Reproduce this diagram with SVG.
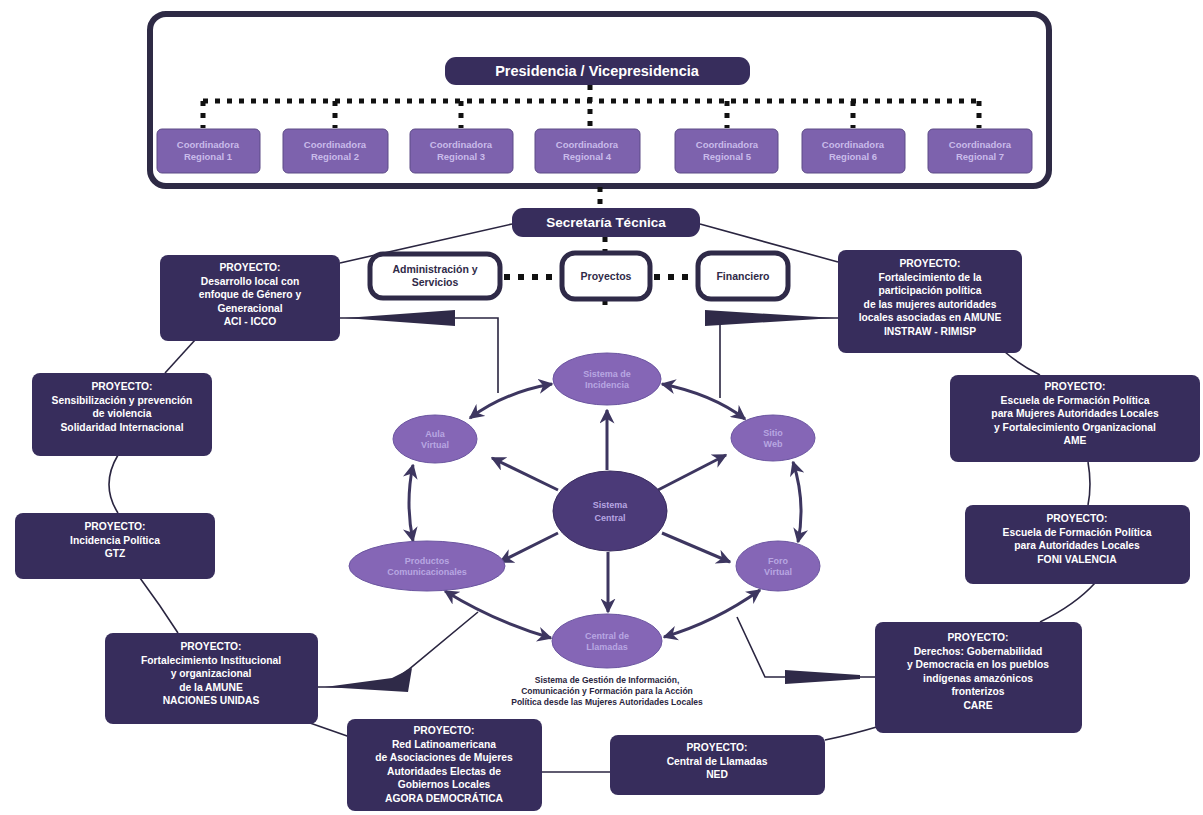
<svg xmlns="http://www.w3.org/2000/svg" width="1203" height="815" viewBox="0 0 1203 815">
<defs>
<style>
.dk{fill:#372d5c;}
.pt{font-family:"Liberation Sans",Arial,sans-serif;font-weight:bold;font-size:10.3px;fill:#ffffff;text-anchor:middle;}
.coord{fill:#7d62ad;stroke:#5c4a86;stroke-width:1;}
.ct{font-family:"Liberation Sans",Arial,sans-serif;font-weight:bold;font-size:9.5px;fill:#c9bbea;text-anchor:middle;}
.wb{fill:#ffffff;stroke:#2f2a48;stroke-width:5;}
.wt{font-family:"Liberation Sans",Arial,sans-serif;font-weight:bold;font-size:10.5px;fill:#2f2a48;text-anchor:middle;}
.pill{font-family:"Liberation Sans",Arial,sans-serif;font-weight:bold;fill:#ffffff;text-anchor:middle;}
.dot{stroke:#111;stroke-width:5;stroke-dasharray:5 7;fill:none;}
.dot2{stroke:#111;stroke-width:6;stroke-dasharray:6 8;fill:none;}
.ln{stroke:#2a2540;stroke-width:1.6;fill:none;}
.ell{fill:#8566b6;stroke:#6b55a0;stroke-width:1;}
.et{font-family:"Liberation Sans",Arial,sans-serif;font-weight:bold;font-size:9px;fill:#b8a6e2;text-anchor:middle;}
.ar{stroke:#3d3660;stroke-width:3;fill:none;}
.cap{font-family:"Liberation Sans",Arial,sans-serif;font-weight:bold;font-size:8.5px;fill:#2a2540;text-anchor:middle;}
</style>
<marker id="ah" viewBox="0 0 10 10" refX="9" refY="5" markerWidth="5" markerHeight="5" orient="auto-start-reverse">
<path d="M0,0 L10,5 L0,10 L3,5z" fill="#3d3660"/>
</marker>
</defs>
<rect width="1203" height="815" fill="#ffffff"/>

<g id="top-frame">
<rect x="150" y="14" width="899" height="172" rx="16" fill="#ffffff" stroke="#2e2a45" stroke-width="6"/>
</g>

<g id="connectors">
<path class="dot" d="M203,101 H978"/>
<path class="dot" d="M203,101 V128 M335,101 V128 M461,101 V128 M590,85 V128 M727,101 V128 M853,101 V128 M979,101 V128"/>
<path class="dot" d="M600,187 V208"/>
<path class="dot" d="M605,237 V252 M605,300 V312"/>
<path class="dot2" d="M504,277 H560 M654,277 H696"/>
<path class="ln" d="M512,224 L340,263"/>
<path class="ln" d="M700,224 L838,262"/>
<path class="ln" d="M195,340 L165,373"/>
<path class="ln" d="M118,455 Q100,485 118,513"/>
<path class="ln" d="M140,578 Q160,605 178,633"/>
<path class="ln" d="M310,723 L350,737"/>
<path class="ln" d="M542,772 H610"/>
<path class="ln" d="M825,740 Q850,735 880,726"/>
<path class="ln" d="M1040,622 Q1075,605 1095,583"/>
<path class="ln" d="M1088,505 Q1092,485 1088,462"/>
<path class="ln" d="M1040,375 Q1020,365 1005,352"/>
<path class="ln" d="M340,318 H498 V393"/>
<polygon points="345,318 455,310 455,326" fill="#2f2a48"/>
<path class="ln" d="M838,318 H720 V398"/>
<polygon points="835,318 705,310 705,326" fill="#2f2a48"/>
<path class="ln" d="M318,687 H385 L408,670 L478,612"/>
<polygon points="325,687 392,678 412,668 408,692" fill="#2f2a48"/>
<path class="ln" d="M737,617 L765,677 H875"/>
<polygon points="785,670 785,684 860,679 860,675" fill="#2f2a48"/>
<path class="ar" d="M607,470 V410" marker-end="url(#ah)"/>
<path class="ar" d="M558,490 L492,458" marker-end="url(#ah)"/>
<path class="ar" d="M658,490 L726,455" marker-end="url(#ah)"/>
<path class="ar" d="M558,533 L500,562" marker-end="url(#ah)"/>
<path class="ar" d="M662,533 L730,562" marker-end="url(#ah)"/>
<path class="ar" d="M608,552 V612" marker-end="url(#ah)"/>
<path class="ar" d="M552,384 Q505,392 470,418" marker-start="url(#ah)" marker-end="url(#ah)"/>
<path class="ar" d="M662,384 Q712,394 745,419" marker-start="url(#ah)" marker-end="url(#ah)"/>
<path class="ar" d="M413,465 Q405,503 413,541" marker-start="url(#ah)" marker-end="url(#ah)"/>
<path class="ar" d="M793,462 Q806,502 798,542" marker-start="url(#ah)" marker-end="url(#ah)"/>
<path class="ar" d="M445,591 Q495,622 551,638" marker-start="url(#ah)" marker-end="url(#ah)"/>
<path class="ar" d="M760,590 Q715,622 664,637" marker-start="url(#ah)" marker-end="url(#ah)"/>
</g>

<g id="presidencia">
<rect x="445" y="57" width="305" height="28" rx="11" class="dk"/>
<text x="597" y="76" class="pill" font-size="14.5">Presidencia / Vicepresidencia</text>
</g>

<g id="coord1"><rect x="157" y="129" width="103" height="44" rx="5" class="coord"/><text class="ct" x="208" y="148">Coordinadora<tspan x="208" dy="12">Regional 1</tspan></text></g>
<g id="coord2"><rect x="283" y="129" width="105" height="44" rx="5" class="coord"/><text class="ct" x="335" y="148">Coordinadora<tspan x="335" dy="12">Regional 2</tspan></text></g>
<g id="coord3"><rect x="410" y="129" width="103" height="44" rx="5" class="coord"/><text class="ct" x="461" y="148">Coordinadora<tspan x="461" dy="12">Regional 3</tspan></text></g>
<g id="coord4"><rect x="535" y="129" width="105" height="44" rx="5" class="coord"/><text class="ct" x="587" y="148">Coordinadora<tspan x="587" dy="12">Regional 4</tspan></text></g>
<g id="coord5"><rect x="675" y="129" width="103" height="44" rx="5" class="coord"/><text class="ct" x="727" y="148">Coordinadora<tspan x="727" dy="12">Regional 5</tspan></text></g>
<g id="coord6"><rect x="802" y="129" width="103" height="44" rx="5" class="coord"/><text class="ct" x="853" y="148">Coordinadora<tspan x="853" dy="12">Regional 6</tspan></text></g>
<g id="coord7"><rect x="928" y="129" width="104" height="44" rx="5" class="coord"/><text class="ct" x="980" y="148">Coordinadora<tspan x="980" dy="12">Regional 7</tspan></text></g>

<g id="secretaria">
<rect x="512" y="208" width="188" height="29" rx="11" class="dk"/>
<text x="606" y="227" class="pill" font-size="13.5">Secretaría Técnica</text>
</g>

<g id="admin"><rect x="370" y="254" width="130" height="44" rx="13" class="wb"/><text class="wt" x="435" y="273">Administración y<tspan x="435" dy="13">Servicios</tspan></text></g>
<g id="proyectos"><rect x="562" y="253" width="88" height="46" rx="13" class="wb"/><text class="wt" x="606" y="280">Proyectos</text></g>
<g id="financiero"><rect x="698" y="253" width="90" height="46" rx="13" class="wb"/><text class="wt" x="743" y="280">Financiero</text></g>

<g id="p-aci"><rect x="160" y="255" width="180" height="86" rx="8" class="dk"/>
<text class="pt" x="250" y="271">PROYECTO:<tspan x="250" dy="13.5">Desarrollo local con</tspan><tspan x="250" dy="13.5">enfoque de Género y</tspan><tspan x="250" dy="13.5">Generacional</tspan><tspan x="250" dy="13.5">ACI - ICCO</tspan></text></g>

<g id="p-instraw"><rect x="838" y="250" width="184" height="103" rx="8" class="dk"/>
<text class="pt" x="930" y="267">PROYECTO:<tspan x="930" dy="13.5">Fortalecimiento de la</tspan><tspan x="930" dy="13.5">participación política</tspan><tspan x="930" dy="13.5">de las mujeres autoridades</tspan><tspan x="930" dy="13.5">locales asociadas en AMUNE</tspan><tspan x="930" dy="13.5">INSTRAW - RIMISP</tspan></text></g>

<g id="p-solidaridad"><rect x="32" y="373" width="180" height="83" rx="8" class="dk"/>
<text class="pt" x="122" y="390">PROYECTO:<tspan x="122" dy="13.5">Sensibilización y prevención</tspan><tspan x="122" dy="13.5">de violencia</tspan><tspan x="122" dy="13.5">Solidaridad Internacional</tspan></text></g>

<g id="p-gtz"><rect x="15" y="513" width="200" height="66" rx="8" class="dk"/>
<text class="pt" x="115" y="530">PROYECTO:<tspan x="115" dy="13.5">Incidencia Política</tspan><tspan x="115" dy="13.5">GTZ</tspan></text></g>

<g id="p-nnuu"><rect x="105" y="633" width="213" height="91" rx="8" class="dk"/>
<text class="pt" x="211" y="650">PROYECTO:<tspan x="211" dy="13.5">Fortalecimiento Institucional</tspan><tspan x="211" dy="13.5">y organizacional</tspan><tspan x="211" dy="13.5">de la AMUNE</tspan><tspan x="211" dy="13.5">NACIONES UNIDAS</tspan></text></g>

<g id="p-agora"><rect x="347" y="719" width="195" height="92" rx="8" class="dk"/>
<text class="pt" x="444" y="734">PROYECTO:<tspan x="444" dy="13.5">Red Latinoamericana</tspan><tspan x="444" dy="13.5">de Asociaciones de Mujeres</tspan><tspan x="444" dy="13.5">Autoridades Electas de</tspan><tspan x="444" dy="13.5">Gobiernos Locales</tspan><tspan x="444" dy="13.5">AGORA DEMOCRÁTICA</tspan></text></g>

<g id="p-ned"><rect x="610" y="735" width="215" height="60" rx="8" class="dk"/>
<text class="pt" x="717" y="751">PROYECTO:<tspan x="717" dy="13.5">Central de Llamadas</tspan><tspan x="717" dy="13.5">NED</tspan></text></g>

<g id="p-care"><rect x="875" y="622" width="207" height="111" rx="8" class="dk"/>
<text class="pt" x="978" y="641">PROYECTO:<tspan x="978" dy="13.5">Derechos: Gobernabilidad</tspan><tspan x="978" dy="13.5">y Democracia en los pueblos</tspan><tspan x="978" dy="13.5">indígenas amazónicos</tspan><tspan x="978" dy="13.5">fronterizos</tspan><tspan x="978" dy="13.5">CARE</tspan></text></g>

<g id="p-valencia"><rect x="965" y="505" width="225" height="79" rx="8" class="dk"/>
<text class="pt" x="1077" y="522">PROYECTO:<tspan x="1077" dy="13.5">Escuela de Formación Política</tspan><tspan x="1077" dy="13.5">para Autoridades Locales</tspan><tspan x="1077" dy="13.5">FONI VALENCIA</tspan></text></g>

<g id="p-ame"><rect x="950" y="375" width="250" height="87" rx="8" class="dk"/>
<text class="pt" x="1075" y="390">PROYECTO:<tspan x="1075" dy="13.5">Escuela de Formación Política</tspan><tspan x="1075" dy="13.5">para Mujeres Autoridades Locales</tspan><tspan x="1075" dy="13.5">y Fortalecimiento Organizacional</tspan><tspan x="1075" dy="13.5">AME</tspan></text></g>

<g id="e-incidencia"><ellipse cx="607" cy="379" rx="54" ry="26" class="ell"/><text class="et" x="607" y="377">Sistema de<tspan x="607" dy="11">Incidencia</tspan></text></g>
<g id="e-aula"><ellipse cx="435" cy="439" rx="42" ry="24" class="ell"/><text class="et" x="435" y="437">Aula<tspan x="435" dy="11">Virtual</tspan></text></g>
<g id="e-web"><ellipse cx="773" cy="438" rx="42" ry="23" class="ell"/><text class="et" x="773" y="436">Sitio<tspan x="773" dy="11">Web</tspan></text></g>
<g id="e-central"><ellipse cx="610" cy="511" rx="57" ry="40" fill="#4b3a78" stroke="#3a2d60" stroke-width="1"/><text class="et" x="610" y="508" font-size="10.5" fill="#7d68ad">Sistema<tspan x="610" dy="13">Central</tspan></text></g>
<g id="e-productos"><ellipse cx="427" cy="566" rx="78" ry="25" class="ell"/><text class="et" x="427" y="564">Productos<tspan x="427" dy="11">Comunicacionales</tspan></text></g>
<g id="e-foro"><ellipse cx="778" cy="566" rx="42" ry="25" class="ell"/><text class="et" x="778" y="564">Foro<tspan x="778" dy="11">Virtual</tspan></text></g>
<g id="e-llamadas"><ellipse cx="607" cy="641" rx="55" ry="27" class="ell"/><text class="et" x="607" y="639">Central de<tspan x="607" dy="11">Llamadas</tspan></text></g>

<g id="caption">
<text class="cap" x="607" y="683">Sistema de Gestión de Información,<tspan x="607" dy="11">Comunicación y Formación para la Acción</tspan><tspan x="607" dy="11">Política desde las Mujeres Autoridades Locales</tspan></text>
</g>
</svg>
